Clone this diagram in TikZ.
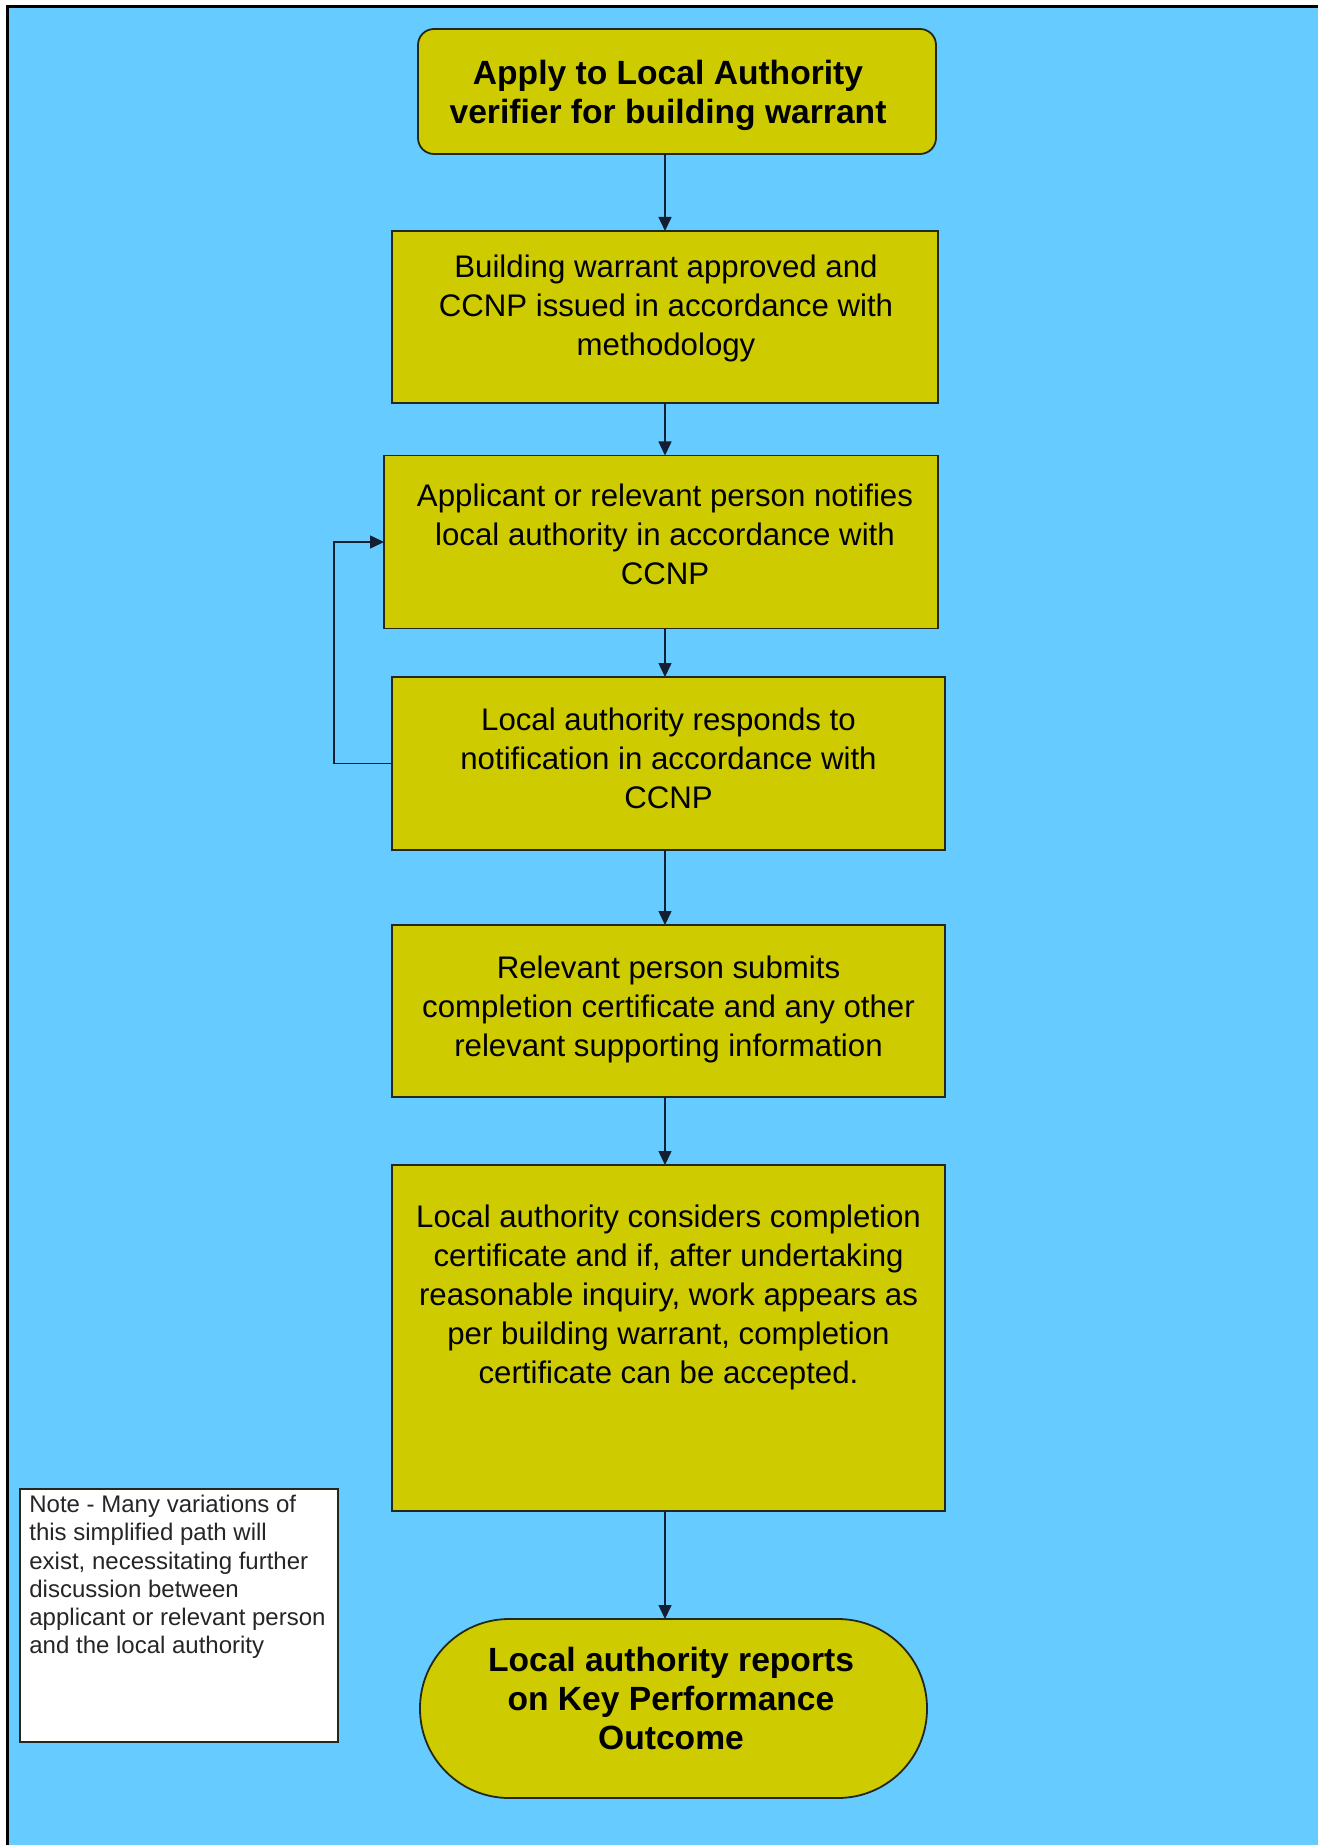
\documentclass[tikz,border=0pt]{standalone}
\usepackage{fontspec}
\setmainfont{Liberation Sans}
\usetikzlibrary{arrows.meta}
\definecolor{skyb}{RGB}{102,204,255}
\definecolor{olive}{RGB}{206,204,0}
\definecolor{edge}{RGB}{35,40,30}
\definecolor{arrc}{RGB}{20,30,50}
\tikzset{
  stepbox/.style={draw=edge, fill=olive, line width=0.9pt, inner sep=0pt, outer sep=0pt},
  plaintext/.style={inner sep=0pt, outer sep=0pt, align=center, font=\fontsize{15.6pt}{19.5pt}\selectfont},
  boldtext/.style={plaintext, font=\fontsize{16.8pt}{19.5pt}\selectfont\bfseries},
  notebox/.style={draw=edge, fill=white, line width=0.9pt, inner sep=0pt, outer sep=0pt},
  notetext/.style={inner sep=0pt, align=left, font=\fontsize{12pt}{14.1pt}\selectfont, text=black!85},
  arr/.style={draw=arrc, line width=0.75pt, -{Triangle[length=7pt,width=6.5pt]}}
}
\begin{document}
\begin{tikzpicture}[x=0.5pt,y=-0.5pt]
\useasboundingbox (0,0) rectangle (1318,1845);
\fill[white] (0,0) rectangle (1318,1845);
\fill[skyb] (7,7) rectangle (1318,1845);
\draw[black, line width=1.5pt] (7,1845) -- (7,7) -- (1318,7);

\coordinate (axis) at (665,0);
\coordinate (loopx) at (334,0);

% boxes
\node[stepbox, rounded corners=8pt, minimum width=259pt, minimum height=62.5pt] (top) at (677,91.5) {};
\node[stepbox, minimum width=273pt, minimum height=86pt] (b2) at (665,317) {};
\node[stepbox, minimum width=277pt, minimum height=86.5pt] (b3) at (661,542) {};
\node[stepbox, minimum width=276.5pt, minimum height=86.5pt] (b4) at (668.5,763.5) {};
\node[stepbox, minimum width=276.5pt, minimum height=86pt] (b5) at (668.5,1011) {};
\node[stepbox, minimum width=276.5pt, minimum height=173pt] (b6) at (668.5,1338) {};
\node[stepbox, rounded corners=44.6pt, minimum width=253.5pt, minimum height=89.5pt] (end) at (673.5,1708.5) {};
\node[notebox, minimum width=159pt, minimum height=126.5pt] (note) at (179,1615.5) {};

% texts
\node[boldtext] (topt) at (668,95)
  {Apply to Local Authority\\verifier for building warrant};
\node[plaintext] (b2t) at (666,308)
  {Building warrant approved and\\CCNP issued in accordance with\\methodology};
\node[plaintext] (b3t) at (665,534)
  {Applicant or relevant person notifies\\local authority in accordance with\\CCNP};
\node[plaintext] (b4t) at (668.5,758.5)
  {Local authority responds to\\notification in accordance with\\CCNP};
\node[plaintext] (b5t) at (668.5,1009)
  {Relevant person submits\\completion certificate and any other\\relevant supporting information};
\node[plaintext] (b6t) at (668.5,1297)
  {Local authority considers completion\\certificate and if, after undertaking\\reasonable inquiry, work appears as\\per building warrant, completion\\certificate can be accepted.};
\node[boldtext] (endt) at (671,1698.5)
  {Local authority reports\\on Key Performance\\Outcome};
\node[notetext, anchor=west] (notet) at (29,1577)
  {Note - Many variations of\\this simplified path will\\exist, necessitating further\\discussion between\\applicant or relevant person\\and the local authority};

% connectors
\draw[arr] (top.south -| axis) -- (b2.north -| axis);
\draw[arr] (b2.south -| axis) -- (b3.north -| axis);
\draw[arr] (b3.south -| axis) -- (b4.north -| axis);
\draw[arr] (b4.south -| axis) -- (b5.north -| axis);
\draw[arr] (b5.south -| axis) -- (b6.north -| axis);
\draw[arr] (b6.south -| axis) -- (end.north -| axis);
\draw[arr] (b4.west) -- (b4.west -| loopx) |- (b3.west);
\end{tikzpicture}
\end{document}
